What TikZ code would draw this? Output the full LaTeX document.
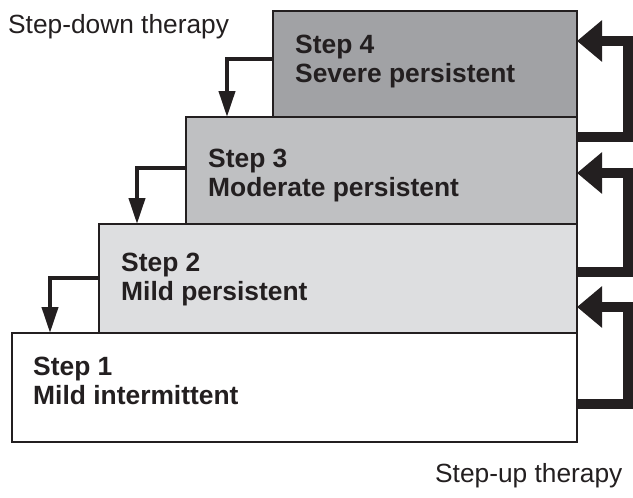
\documentclass[tikz,border=0pt]{standalone}
\usepackage{fontspec}
\setmainfont{Liberation Sans}
\usepackage{tikz}
\usetikzlibrary{arrows.meta}
\definecolor{inkgray}{RGB}{35,31,32}
\definecolor{stepfour}{RGB}{161,162,165}
\definecolor{stepthree}{RGB}{191,192,194}
\definecolor{steptwo}{RGB}{221,222,224}

\begin{document}
\begin{tikzpicture}
    [x=1pt, y=-1pt,
    stepbox/.style={draw=inkgray, line width=1.2pt, inner sep=0pt, outer sep=0pt, anchor=north west},
    steplabel/.style={anchor=north west, inner sep=0pt, align=left, text=inkgray,
      font=\fontsize{26.4}{28.5}\selectfont\bfseries},
    therapy/.style={anchor=base west, inner sep=0pt, text=inkgray, font=\fontsize{26.3}{30}\selectfont},
    uparrow/.style={draw=inkgray, line width=10pt, -{Triangle[length=25pt, width=40pt]}},
    downarrow/.style={draw=inkgray, line width=4pt, -{Triangle[length=26pt, width=16pt]}}]

    \useasboundingbox (0,0) rectangle (633,498);

    % Draw the steps
    \node[stepbox, fill=white, minimum width=565pt, minimum height=109pt] (s1) at (12,333) {};
    \node[stepbox, fill=steptwo, minimum width=478pt, minimum height=109pt] (s2) at (99,224) {};
    \node[stepbox, fill=stepthree, minimum width=391pt, minimum height=107pt] (s3) at (186,117) {};
    \node[stepbox, fill=stepfour, minimum width=304pt, minimum height=106pt] (s4) at (273,11) {};

    \node[steplabel] (l1) at ([xshift=21pt, yshift=-24pt]s1.north west) {Step 1\\Mild intermittent};
    \node[steplabel] (l2) at ([xshift=22pt, yshift=-29pt]s2.north west) {Step 2\\Mild persistent};
    \node[steplabel] (l3) at ([xshift=22pt, yshift=-32pt]s3.north west) {Step 3\\Moderate persistent};
    \node[steplabel] (l4) at ([xshift=22pt, yshift=-24pt]s4.north west) {Step 4\\Severe persistent};

    \node[therapy] (down) at (8,33) {Step-down therapy};
    \node[therapy] (up) at (435,482) {Step-up therapy};

    % Step down
    \draw[downarrow] ([yshift=-48pt]s4.north west) -| ([xshift=41pt]s3.north west);
    \draw[downarrow] ([yshift=-51pt]s3.north west) -| ([xshift=38pt]s2.north west);
    \draw[downarrow] ([yshift=-54pt]s2.north west) -| ([xshift=38pt]s1.north west);

    % Step up
    \draw[uparrow] ([yshift=-71pt]s1.north east) -- ++(51,0) |- ([yshift=-83pt]s2.north east);
    \draw[uparrow] ([yshift=-48pt]s2.north east) -- ++(51,0) |- ([yshift=-56pt]s3.north east);
    \draw[uparrow] ([yshift=-20pt]s3.north east) -- ++(51,0) |- ([yshift=-30pt]s4.north east);

\end{tikzpicture}
\end{document}
